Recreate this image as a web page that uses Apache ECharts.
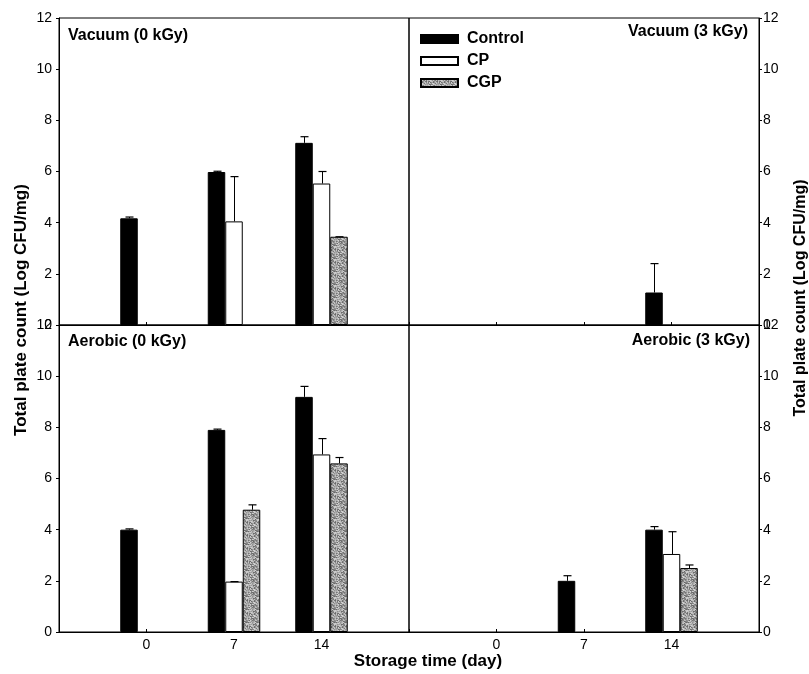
<!DOCTYPE html>
<html><head><meta charset="utf-8">
<script src="https://cdn.jsdelivr.net/npm/echarts@6/dist/echarts.min.js"></script>
<style>html,body{margin:0;padding:0;background:#fff}#c{width:809px;height:674px}</style>
</head><body><div id="c"></div>
<script>
// ---------- data ----------
const days = [0, 7, 14];
const seriesNames = ['Control', 'CP', 'CGP'];
const panelTitles = ['Vacuum (0 kGy)', 'Vacuum (3 kGy)', 'Aerobic (0 kGy)', 'Aerobic (3 kGy)'];
const yAxisTitle = 'Total plate count (Log CFU/mg)';
const xAxisTitle = 'Storage time (day)';

// Vacuum (0 kGy)
const vac0Control    = [4.17, 5.98, 7.12];
const vac0ControlErr = [0.05, 0.03, 0.24];
const vac0CP         = [null, 4.05, 5.53];
const vac0CPErr      = [null, 1.75, 0.47];
const vac0CGP        = [null, null, 3.45];
const vac0CGPErr     = [null, null, 0.0];
// Vacuum (3 kGy)
const vac3Control    = [null, null, 1.27];
const vac3ControlErr = [null, null, 1.13];
const vac3CP         = [null, null, null];
const vac3CPErr      = [null, null, null];
const vac3CGP        = [null, null, null];
const vac3CGPErr     = [null, null, null];
// Aerobic (0 kGy)
const aer0Control    = [4.0, 7.9, 9.19];
const aer0ControlErr = [0.03, 0.03, 0.41];
const aer0CP         = [null, 1.97, 6.94];
const aer0CPErr      = [null, 0.0, 0.62];
const aer0CGP        = [null, 4.78, 6.59];
const aer0CGPErr     = [null, 0.19, 0.23];
// Aerobic (3 kGy)
const aer3Control    = [null, 2.0, 4.0];
const aer3ControlErr = [null, 0.2, 0.12];
const aer3CP         = [null, null, 3.05];
const aer3CPErr      = [null, null, 0.87];
const aer3CGP        = [null, null, 2.5];
const aer3CGPErr     = [null, null, 0.12];

const panels = [
  [[vac0Control, vac0ControlErr], [vac0CP, vac0CPErr], [vac0CGP, vac0CGPErr]],
  [[vac3Control, vac3ControlErr], [vac3CP, vac3CPErr], [vac3CGP, vac3CGPErr]],
  [[aer0Control, aer0ControlErr], [aer0CP, aer0CPErr], [aer0CGP, aer0CGPErr]],
  [[aer3Control, aer3ControlErr], [aer3CP, aer3CPErr], [aer3CGP, aer3CGPErr]]
];

// ---------- styles ----------
const FONT = '"Liberation Sans", Arial, sans-serif';
const BAR_W = 17.5;

function makeSpeckle() {
  const c = document.createElement('canvas');
  c.width = 11; c.height = 13;
  const g = c.getContext('2d');
  const shades = [0x6a, 0xa8, 0xc4, 0x84, 0xb8, 0x92, 0xd0, 0x76, 0x9e, 0xbc, 0x8a];
  for (let i = 0; i < 11; i++) for (let j = 0; j < 13; j++) {
    const v = shades[(i * 7 + j * 4 + (i * j) % 5 + (j * j) % 3) % 11];
    g.fillStyle = 'rgb(' + v + ',' + v + ',' + v + ')';
    g.fillRect(i, j, 1, 1);
  }
  return c;
}
const fills = ['#000000', '#ffffff', { image: makeSpeckle(), repeat: 'repeat' }];

const grids = [
  { left: 59,  top: 18,  width: 350, height: 307 },
  { left: 409, top: 18,  width: 350, height: 307 },
  { left: 59,  top: 325, width: 350, height: 307 },
  { left: 409, top: 325, width: 350, height: 307 }
].map(g => Object.assign(g, { show: true, borderColor: '#000', borderWidth: 1, backgroundColor: 'transparent' }));

const xAxes = grids.map((g, i) => ({
  type: 'value', gridIndex: i, min: -7, max: 21, interval: 7,
  axisLine: { show: true, onZero: false, lineStyle: { color: '#000', width: 1 } },
  axisTick: { show: true, inside: true, length: 3, lineStyle: { color: '#000' } },
  splitLine: { show: false },
  axisLabel: {
    show: i >= 2, color: '#000', fontSize: 14, fontFamily: FONT, margin: 6,
    formatter: v => days.includes(v) ? String(v) : ''
  }
}));

const yAxes = grids.map((g, i) => ({
  type: 'value', gridIndex: i, min: 0, max: 12, interval: 2,
  position: (i % 2 === 0) ? 'left' : 'right',
  axisLine: { show: true, onZero: false, lineStyle: { color: '#000', width: 1 } },
  axisTick: { show: true, inside: false, length: 3, lineStyle: { color: '#000' } },
  splitLine: { show: false },
  axisLabel: { show: true, color: '#000', fontSize: 14, fontFamily: FONT, margin: (i % 2 === 0) ? 7 : 4 }
}));

const series = [];
panels.forEach((panel, p) => {
  panel.forEach(([vals, errs], s) => {
    series.push({
      name: seriesNames[s], type: 'bar', xAxisIndex: p, yAxisIndex: p,
      barWidth: BAR_W, barGap: '0%',
      itemStyle: { color: fills[s], borderColor: '#000', borderWidth: 1 },
      emphasis: { disabled: true },
      data: days.map((d, k) => [d, vals[k]]).filter(v => v[1] !== null)
    });
    const off = (s - 1) * BAR_W;
    series.push({
      type: 'custom', xAxisIndex: p, yAxisIndex: p, z: 5,
      encode: { x: 0, y: 1 },
      data: days.map((d, k) => [d, vals[k], errs[k]]).filter(v => v[1] !== null && v[2] !== null),
      renderItem: function (params, api) {
        const base = api.coord([api.value(0), api.value(1)]);
        const top = api.coord([api.value(0), api.value(1) + api.value(2)]);
        const x = Math.round(base[0] + off) + 0.5;
        return {
          type: 'group', children: [
            { type: 'line', shape: { x1: x, y1: base[1], x2: x, y2: top[1] }, style: { stroke: '#000', lineWidth: 1 } },
            { type: 'line', shape: { x1: x - 4, y1: top[1], x2: x + 4, y2: top[1] }, style: { stroke: '#000', lineWidth: 1.2 } }
          ]
        };
      }
    });
  });
});

const titleStyle = { fontSize: 16, fontWeight: 'bold', fontFamily: FONT, fill: '#000' };
const graphic = [
  { type: 'text', left: 68, top: 28, style: Object.assign({ text: panelTitles[0] }, titleStyle) },
  { type: 'text', right: 61, top: 24, style: Object.assign({ text: panelTitles[1] }, titleStyle) },
  { type: 'text', left: 68, top: 334, style: Object.assign({ text: panelTitles[2] }, titleStyle) },
  { type: 'text', right: 59, top: 333, style: Object.assign({ text: panelTitles[3] }, titleStyle) },
  { type: 'text', x: 21, y: 310, rotation: Math.PI / 2,
    style: { text: yAxisTitle, fontSize: 17, fontWeight: 'bold', fontFamily: FONT, fill: '#000', textAlign: 'center', textVerticalAlign: 'middle' } },
  { type: 'text', x: 801, y: 298, rotation: Math.PI / 2,
    style: { text: yAxisTitle, fontSize: 16, fontWeight: 'bold', fontFamily: FONT, fill: '#000', textAlign: 'center', textVerticalAlign: 'middle' } },
  { type: 'text', x: 428, y: 661,
    style: { text: xAxisTitle, fontSize: 17, fontWeight: 'bold', fontFamily: FONT, fill: '#000', textAlign: 'center', textVerticalAlign: 'middle' } }
];

const chart = echarts.init(document.getElementById('c'), null, { renderer: 'canvas' });
chart.setOption({
  animation: false,
  backgroundColor: '#fff',
  grid: grids,
  xAxis: xAxes,
  yAxis: yAxes,
  legend: {
    data: seriesNames, orient: 'vertical', left: 420, top: 31, padding: 0,
    itemWidth: 37, itemHeight: 8, itemGap: 6, icon: 'rect',
    textStyle: { fontSize: 16, fontWeight: 'bold', fontFamily: FONT, color: '#000', lineHeight: 15, padding: [0, 0, 0, 4] },
    selectedMode: false
  },
  graphic: graphic,
  series: series
});
</script>
</body></html>
